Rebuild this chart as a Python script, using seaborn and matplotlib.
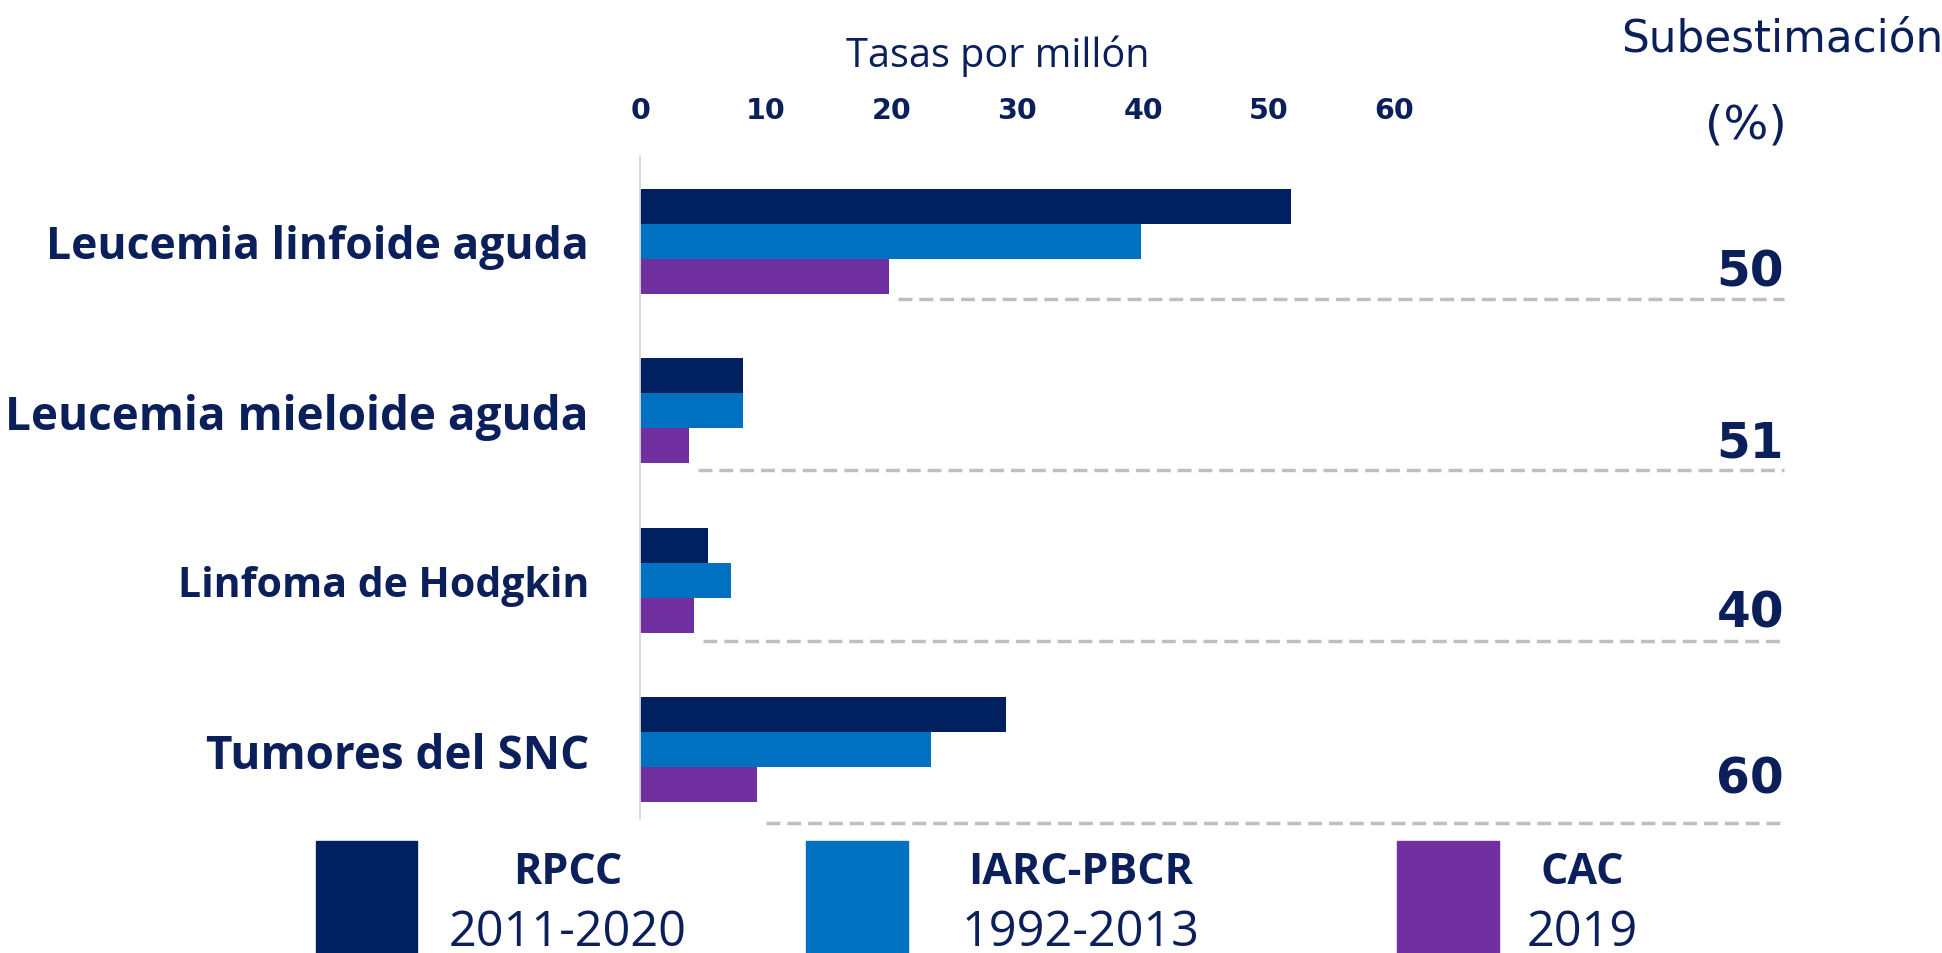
import matplotlib
matplotlib.use("Agg")
import matplotlib.pyplot as plt
import seaborn as sns
import pandas as pd
from matplotlib.patches import Rectangle

# Incidence rates per million by cancer type and data source
categories = ["Leucemia linfoide aguda", "Leucemia mieloide aguda",
              "Linfoma de Hodgkin", "Tumores del SNC"]
sources = ["RPCC", "IARC-PBCR", "CAC"]
periods = ["2011-2020", "1992-2013", "2019"]
rpcc = [51.8, 8.2, 5.4, 29.1]
iarc = [39.8, 8.2, 7.2, 23.1]
cac = [19.8, 3.9, 4.3, 9.3]
underestimation = [50, 51, 40, 60]
x_ticks = [0, 10, 20, 30, 40, 50, 60]

colors = ["#002060", "#0070C0", "#7030A0"]
navy = "#0B1F5A"

sns.set_theme(style="white")
plt.rcParams["font.family"] = ["Open Sans", "DejaVu Sans"]

df = pd.DataFrame({
    "Tipo": categories * 3,
    "Fuente": [s for s in sources for _ in categories],
    "Tasa": rpcc + iarc + cac,
})

fig = plt.figure(figsize=(19.42, 9.54), dpi=100)
x_end = 91
ax = fig.add_axes([0.3297, 0.1403, x_end * 10.15 / 1568, 0.6948])

sns.barplot(data=df, y="Tipo", x="Tasa", hue="Fuente", order=categories,
            hue_order=sources, palette=colors, orient="h", width=0.62,
            saturation=1, linewidth=0, legend=False, ax=ax)

ax.set_xlim(0, x_end)
ax.set_ylim(3.41, -0.50)
ax.set_xlabel("")
ax.set_ylabel("")

# value axis on top, no tick marks
ax.xaxis.tick_top()
ax.set_xticks(x_ticks)
ax.set_xticklabels([str(t) for t in x_ticks], fontfamily="DejaVu Sans",
                   fontweight="bold", fontsize=20.5, color=navy)
ax.tick_params(axis="x", length=0, pad=23)
ax.tick_params(axis="y", length=0, pad=37)
label_sizes = [32, 33, 29.5, 33]
for lab, size in zip(ax.get_yticklabels(), label_sizes):
    lab.set_fontweight("bold")
    lab.set_fontsize(size)
    lab.set_color(navy)
    lab.set_fontfamily("Open Sans")

for side in ["top", "right", "bottom"]:
    ax.spines[side].set_visible(False)
ax.spines["left"].set_color("#D9D9D9")
ax.spines["left"].set_linewidth(1.3)

ax.text(28.4 / x_end, 1.153, "Tasas por millón", transform=ax.transAxes,
        ha="center", va="center", fontsize=28.5, color=navy,
        fontfamily="Open Sans")

# dashed separators and underestimation percentages
rule_dy = [0.34, 0.35, 0.36, 0.43]
label_dy = [0.18, 0.19, 0.19, 0.17]
for i, (c, pct) in enumerate(zip(cac, underestimation)):
    ax.hlines(i + rule_dy[i], c + 0.7, x_end, colors="#BFBFBF", lw=2.5,
              linestyles=(0, (4, 2)), clip_on=False)
    ax.text(x_end, i + label_dy[i], str(pct), ha="right", va="center",
            fontsize=35, fontweight="bold", color=navy,
            fontfamily="DejaVu Sans", clip_on=False)

fig.text(0.9175, 0.959, "Subestimación", ha="center", va="center",
         fontsize=31.5, color=navy, fontfamily="DejaVu Sans")
fig.text(0.899, 0.8675, "(%)", ha="center", va="center",
         fontsize=34, color=navy, fontfamily="DejaVu Sans")

# legend blocks along the bottom
legend_x = [0.1626, 0.4152, 0.7194]
text_x = [0.2925, 0.5565, 0.8145]
for col, lx, tx, name, per in zip(colors, legend_x, text_x, sources, periods):
    fig.patches.append(Rectangle((lx, 0.0), 0.0523, 0.117,
                                 transform=fig.transFigure, color=col))
    fig.text(tx, 0.085, name, ha="center", va="center", fontsize=31,
             fontweight="bold", color=navy, fontfamily="Open Sans")
    fig.text(tx, 0.022, per, ha="center", va="center", fontsize=35,
             color=navy, fontfamily="Open Sans")

fig.savefig("out.png", dpi=100, facecolor="white")
